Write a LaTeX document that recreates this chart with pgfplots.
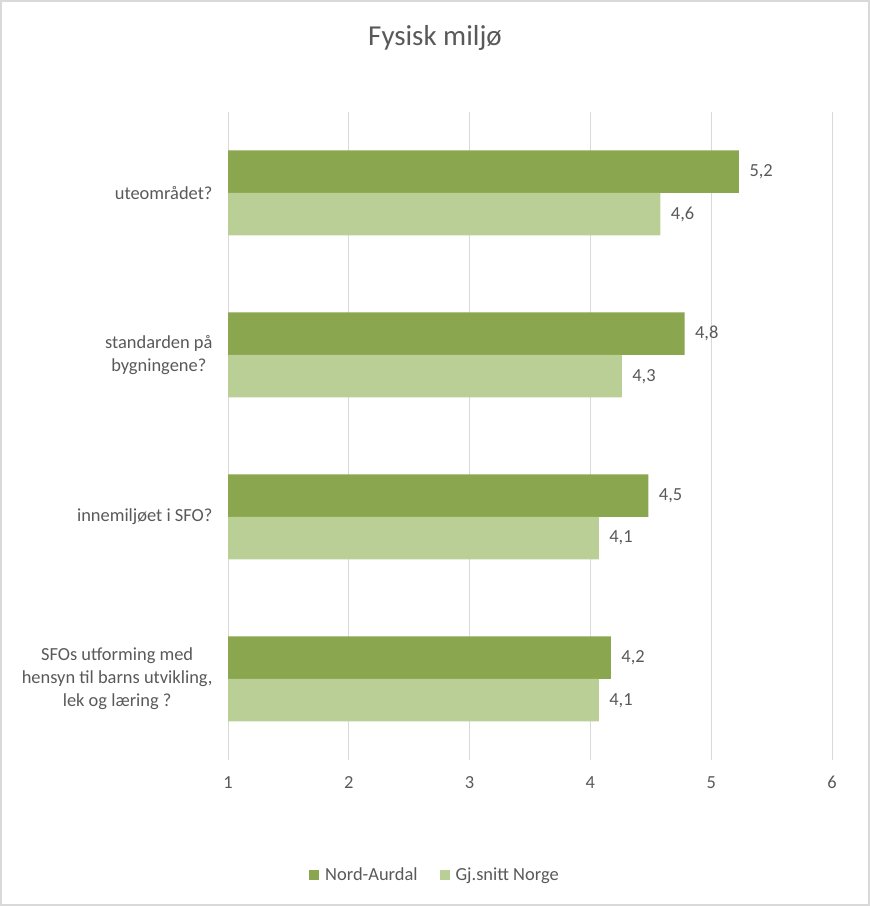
\documentclass[border=0pt]{standalone}
\usepackage{pgfplots}
\pgfplotsset{compat=1.18}
\usepackage{fontspec}
\setmainfont{Carlito}
\definecolor{darkg}{HTML}{8AA64E}
\definecolor{lightg}{HTML}{BACF96}
\definecolor{txt}{HTML}{595959}
\definecolor{gridc}{HTML}{D9D9D9}
\begin{document}
\begin{tikzpicture}[x=1bp,y=1bp]
\draw[gridc, line width=2bp] (1bp,1bp) rectangle (869bp,905bp);
\node[anchor=base, text=txt, font=\fontsize{29}{33}\selectfont] at (435bp,860bp) {Fysisk miljø};
\begin{axis}[
  at={(228bp,146bp)}, anchor=south west,
  scale only axis, width=604bp, height=648bp,
  xbar, bar width=42.5bp,
  xmin=1, xmax=6, ymin=-0.5, ymax=3.5,
  xtick={1,2,3,4,5,6},
  ytick={0,1,2,3},
  yticklabels={{SFOs utforming med\\hensyn til barns utvikling,\\lek og læring ?},{innemiljøet i SFO?},{standarden på\\bygningene?},{uteområdet?}},
  axis line style={draw=none},
  major tick length=0pt,
  xmajorgrids, grid style={gridc, line width=1bp},
  /pgf/number format/assume math mode=true,
  tick label style={text=txt, font=\fontsize{18.5}{23}\selectfont},
  yticklabel style={align=center},
  yticklabel shift=12bp,
  xticklabel style={yshift=-13bp},
  nodes near coords={\pgfmathprintnumber[fixed,precision=1,use comma]{\pgfplotspointmeta}},
  nodes near coords style={text=txt, font=\fontsize{18.5}{23}\selectfont, xshift=7bp},
  legend style={at={(0.3427,-0.1775)}, anchor=center, draw=none, legend columns=2,
    font=\fontsize{18.5}{23}\selectfont, text=txt,
    /tikz/every odd column/.append style={column sep=4bp},
    /tikz/every even column/.append style={column sep=20bp}},
  legend image code/.code={\fill[#1] (0bp,-5bp) rectangle (10bp,5bp);},
]
\addplot[fill=darkg, draw=none, bar shift=21.25bp] coordinates {(4.17,0) (4.48,1) (4.78,2) (5.23,3)};
\addplot[fill=lightg, draw=none, bar shift=-21.25bp] coordinates {(4.07,0) (4.07,1) (4.26,2) (4.58,3)};
\legend{Nord-Aurdal, Gj.snitt Norge}
\end{axis}
\end{tikzpicture}
\end{document}
